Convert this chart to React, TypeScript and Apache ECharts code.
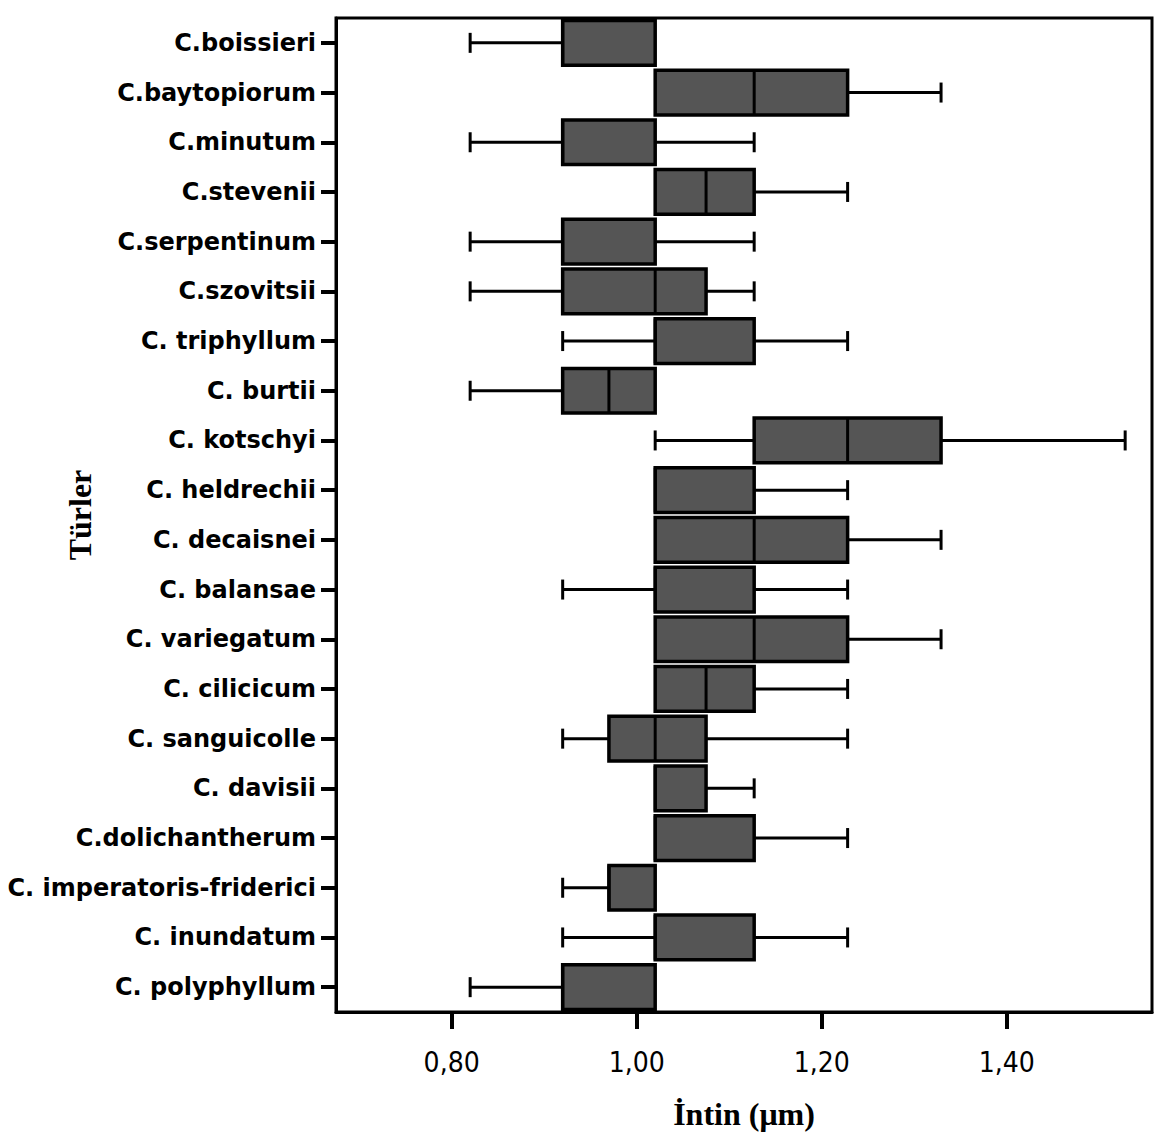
import React, { useEffect, useRef } from "react";
import * as echarts from "echarts";

const categories = [
  "C.boissieri",
  "C.baytopiorum",
  "C.minutum",
  "C.stevenii",
  "C.serpentinum",
  "C.szovitsii",
  "C. triphyllum",
  "C. burtii",
  "C. kotschyi",
  "C. heldrechii",
  "C. decaisnei",
  "C. balansae",
  "C. variegatum",
  "C. cilicicum",
  "C. sanguicolle",
  "C. davisii",
  "C.dolichantherum",
  "C. imperatoris-friderici",
  "C. inundatum",
  "C. polyphyllum",
];

const minVals = [0.82, 1.02, 0.82, 1.02, 0.82, 0.82, 0.92, 0.82, 1.02, 1.02, 1.02, 0.92, 1.02, 1.02, 0.92, 1.02, 1.02, 0.92, 0.92, 0.82];
const q1Vals = [0.92, 1.02, 0.92, 1.02, 0.92, 0.92, 1.02, 0.92, 1.127, 1.02, 1.02, 1.02, 1.02, 1.02, 0.97, 1.02, 1.02, 0.97, 1.02, 0.92];
const medVals = [0.92, 1.127, 0.92, 1.075, 0.92, 1.02, 1.02, 0.97, 1.228, 1.02, 1.127, 1.02, 1.127, 1.075, 1.02, 1.02, 1.02, 0.97, 1.02, 0.92];
const q3Vals = [1.02, 1.228, 1.02, 1.127, 1.02, 1.075, 1.127, 1.02, 1.329, 1.127, 1.228, 1.127, 1.228, 1.127, 1.075, 1.075, 1.127, 1.02, 1.127, 1.02];
const maxVals = [1.02, 1.329, 1.127, 1.228, 1.127, 1.127, 1.228, 1.02, 1.528, 1.228, 1.329, 1.228, 1.329, 1.228, 1.228, 1.127, 1.228, 1.02, 1.228, 1.02];

const xTicks = [0.8, 1.0, 1.2, 1.4];

const labelFont = "'DejaVu Sans', sans-serif";
const tickFont = "'DejaVu Sans Condensed', 'DejaVu Sans', sans-serif";
const serifFont = "'Liberation Serif', 'DejaVu Serif', serif";

export default function App() {
  const ref = useRef<HTMLDivElement>(null);

  useEffect(() => {
    document.body.style.margin = "0";
    const chart = echarts.init(ref.current as HTMLDivElement, null, { renderer: "svg" });
    const data = categories.map((c, i) => [i, minVals[i], q1Vals[i], medVals[i], q3Vals[i], maxVals[i]]);

    const renderItem = (params: any, api: any) => {
      const cat = api.value(0);
      const mn = api.value(1);
      const q1 = api.value(2);
      const md = api.value(3);
      const q3 = api.value(4);
      const mx = api.value(5);
      const pMin = api.coord([mn, cat]);
      const pQ1 = api.coord([q1, cat]);
      const pMd = api.coord([md, cat]);
      const pQ3 = api.coord([q3, cat]);
      const pMax = api.coord([mx, cat]);
      const band = api.size([0, 1])[1];
      const boxH = band * 0.9;
      const cap = 10;
      const y = pQ1[1];
      const stroke = { stroke: "#000", lineWidth: 3 };
      const children: any[] = [];
      if (mx > q3) {
        children.push({ type: "line", shape: { x1: pQ3[0], y1: y, x2: pMax[0], y2: y }, style: stroke });
        children.push({ type: "line", shape: { x1: pMax[0], y1: y - cap, x2: pMax[0], y2: y + cap }, style: stroke });
      }
      if (mn < q1) {
        children.push({ type: "line", shape: { x1: pMin[0], y1: y, x2: pQ1[0], y2: y }, style: stroke });
        children.push({ type: "line", shape: { x1: pMin[0], y1: y - cap, x2: pMin[0], y2: y + cap }, style: stroke });
      }
      children.push({
        type: "rect",
        shape: { x: pQ1[0], y: y - boxH / 2, width: pQ3[0] - pQ1[0], height: boxH },
        style: { fill: "#555555", stroke: "#000", lineWidth: 3.5 },
      });
      children.push({
        type: "line",
        shape: { x1: pMd[0], y1: y - boxH / 2, x2: pMd[0], y2: y + boxH / 2 },
        style: stroke,
      });
      return { type: "group", children };
    };

    chart.setOption({
      animation: false,
      backgroundColor: "#ffffff",
      grid: {
        left: 336,
        right: 18,
        top: 18,
        bottom: 123,
        outerBoundsMode: "none",
        containLabel: false,
        show: true,
        borderColor: "#000",
        borderWidth: 3,
        backgroundColor: "transparent",
      },
      xAxis: {
        type: "value",
        min: 0.675,
        max: 1.557,
        axisLine: { show: true, lineStyle: { color: "#000", width: 3 } },
        axisTick: { show: true, length: 17, lineStyle: { color: "#000", width: 4 }, customValues: xTicks },
        axisLabel: {
          customValues: xTicks,
          formatter: (v: number) => v.toFixed(2).replace(".", ","),
          fontSize: 28,
          color: "#000",
          margin: 36,
          fontFamily: tickFont,
        },
        splitLine: { show: false },
        name: "İntin (μm)",
        nameLocation: "middle",
        nameGap: 86,
        nameMoveOverlap: false,
        nameTextStyle: { fontSize: 32, fontWeight: "bold", color: "#000", fontFamily: serifFont },
      },
      yAxis: {
        type: "category",
        data: categories,
        inverse: true,
        axisLine: { show: true, lineStyle: { color: "#000", width: 3 } },
        axisTick: { show: true, alignWithLabel: true, length: 15, lineStyle: { color: "#000", width: 4 } },
        axisLabel: {
          interval: 0,
          fontSize: 24,
          fontWeight: "bold",
          color: "#000",
          margin: 20,
          fontFamily: labelFont,
          padding: [10, 0, 0, 0],
        },
        splitLine: { show: false },
        name: "Türler",
        nameLocation: "middle",
        nameGap: 240,
        nameRotate: 90,
        nameMoveOverlap: false,
        nameTextStyle: { fontSize: 32, fontWeight: "bold", color: "#000", fontFamily: serifFont },
      },
      series: [
        {
          type: "custom",
          renderItem,
          data,
          encode: { x: [1, 2, 3, 4, 5], y: 0 },
          clip: false,
        },
      ],
    });

    return () => chart.dispose();
  }, []);

  return <div ref={ref} style={{ width: 1170, height: 1135 }} />;
}
